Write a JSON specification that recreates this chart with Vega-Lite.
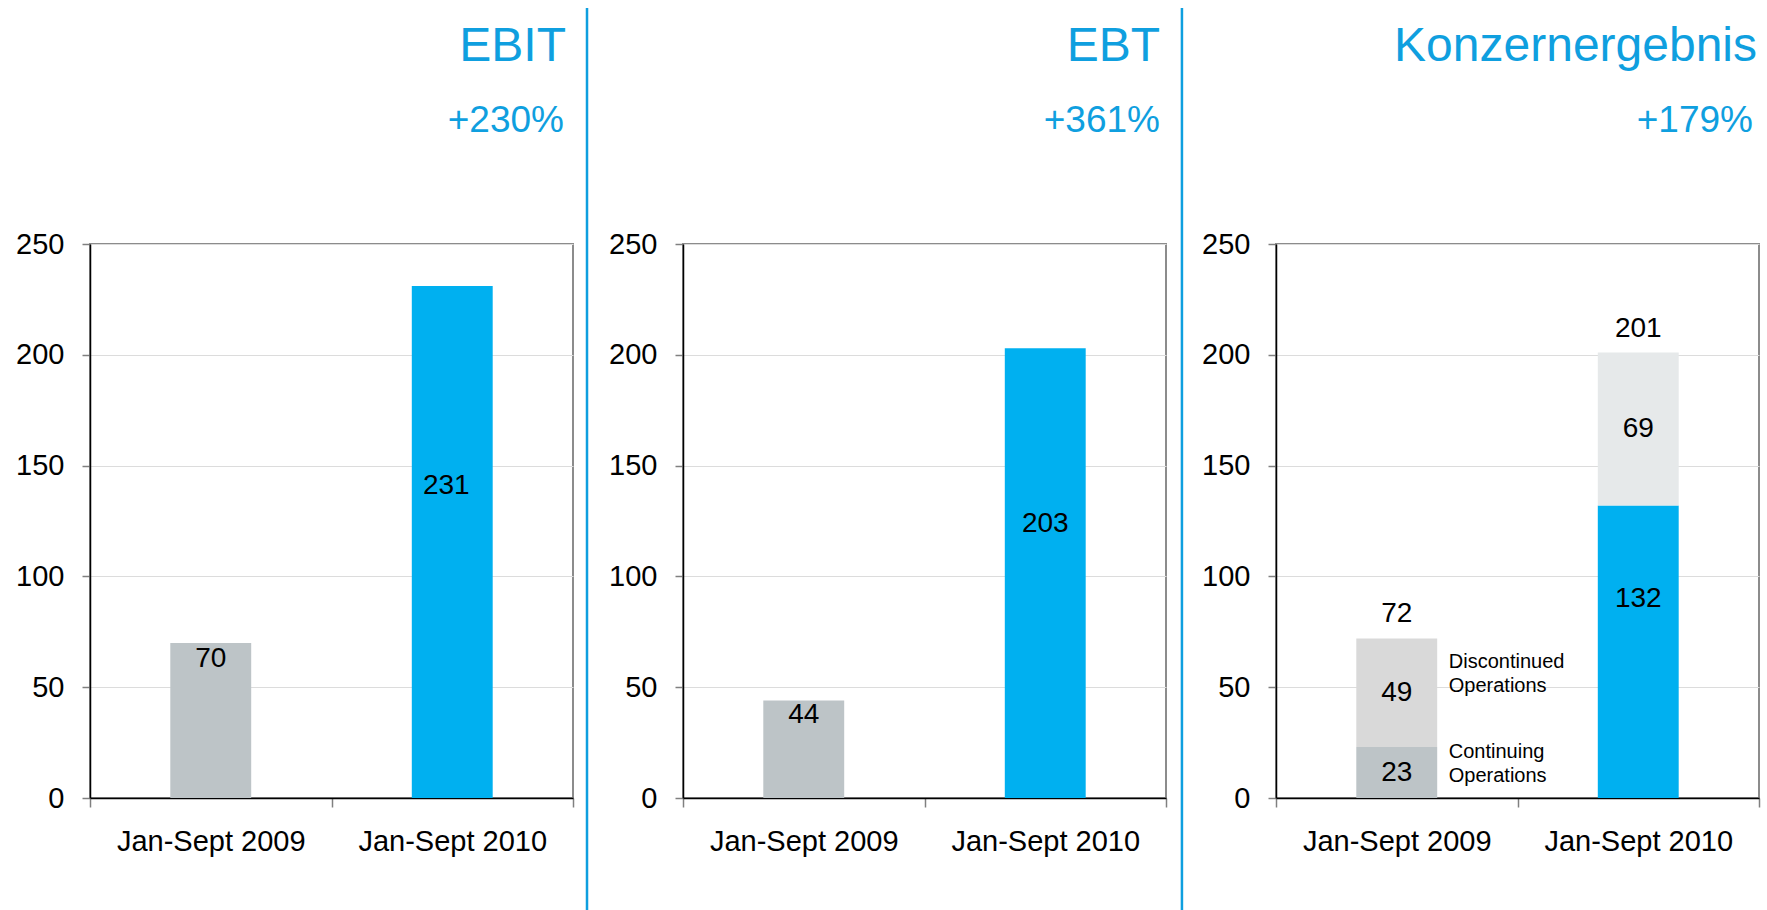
{
  "$schema": "https://vega.github.io/schema/vega-lite/v6.json",
  "background": "white",
  "padding": {"top": 5, "left": 0, "right": 6, "bottom": 0},
  "autosize": {"type": "pad"},
  "spacing": 110,
  "bounds": "flush",
  "datasets": {
    "ebit": [
      {"period": "Jan-Sept 2009", "value": 70},
      {"period": "Jan-Sept 2010", "value": 231}
    ],
    "ebt": [
      {"period": "Jan-Sept 2009", "value": 44},
      {"period": "Jan-Sept 2010", "value": 203}
    ],
    "konzern": [
      {"period": "Jan-Sept 2009", "part": "Continuing Operations", "value": 23},
      {"period": "Jan-Sept 2009", "part": "Discontinued Operations", "value": 49},
      {"period": "Jan-Sept 2010", "part": "Continuing Operations", "value": 132},
      {"period": "Jan-Sept 2010", "part": "Discontinued Operations", "value": 69}
    ],
    "titles": [
      {"panel": "EBIT", "title": "EBIT", "change": "+230%"},
      {"panel": "EBT", "title": "EBT", "change": "+361%"},
      {"panel": "Konzern", "title": "Konzernergebnis", "change": "+179%"}
    ],
    "separator": [{"line": "separator"}]
  },
  "config": {
    "font": "Liberation Sans",
    "view": {"stroke": "#8c8c8c", "strokeWidth": 2},
    "text": {"font": "Liberation Sans", "fontSize": 28, "color": "#000000"},
    "axisX": {
      "title": null, "labelFontSize": 29, "labelColor": "#000000", "labelAngle": 0,
      "labelPadding": 20, "labelLimit": 0, "tickBand": "extent", "tickSize": 9, "tickColor": "#808080",
      "tickWidth": 1.5, "domainColor": "#000000", "domainWidth": 1.5, "grid": false,
      "labelFont": "Liberation Sans"
    },
    "axisY": {
      "title": null, "labelFontSize": 29,
      "labelColor": "#000000", "labelPadding": 18, "tickSize": 8, "tickColor": "#808080",
      "tickWidth": 1.5, "domainColor": "#000000", "domainWidth": 1.5, "grid": true,
      "gridColor": "#dcdcdc", "gridWidth": 1, "minExtent": 89, "labelFont": "Liberation Sans"
    }
  },
  "hconcat": [
    {
      "width": 483, "height": 554,
      "layer": [
        {
          "data": {"name": "ebit"},
          "mark": {"type": "bar", "width": {"band": 0.335}},
          "encoding": {
            "x": {"field": "period", "type": "nominal", "scale": {"domain": ["Jan-Sept 2009", "Jan-Sept 2010"], "paddingInner": 0, "paddingOuter": 0}},
            "y": {"field": "value", "type": "quantitative", "scale": {"domain": [0, 250], "nice": false}, "axis": {"values": [0, 50, 100, 150, 200, 250]}},
            "color": {"field": "period", "type": "nominal", "scale": {"domain": ["Jan-Sept 2009", "Jan-Sept 2010"], "range": ["#bdc4c7", "#00b0f0"]}, "legend": null}
          }
        },
        {
          "data": {"name": "ebit"},
          "transform": [{"filter": "datum.period == 'Jan-Sept 2009'"}],
          "mark": {"type": "text", "baseline": "middle", "dy": 16},
          "encoding": {
            "x": {"field": "period", "type": "nominal", "scale": {"domain": ["Jan-Sept 2009", "Jan-Sept 2010"]}, "axis": null},
            "y": {"field": "value", "type": "quantitative", "scale": {"domain": [0, 250], "nice": false}, "axis": null},
            "text": {"field": "value", "type": "quantitative"}
          }
        },
        {
          "data": {"name": "ebit"},
          "transform": [{"filter": "datum.period == 'Jan-Sept 2010'"}],
          "mark": {"type": "text", "baseline": "middle", "dx": -6},
          "encoding": {
            "x": {"field": "period", "type": "nominal", "scale": {"domain": ["Jan-Sept 2009", "Jan-Sept 2010"]}, "axis": null},
            "y": {"field": "value", "type": "quantitative", "scale": {"domain": [0, 410], "nice": false}, "axis": null},
            "text": {"field": "value", "type": "quantitative"}
          }
        },
        {
          "data": {"name": "separator"},
          "mark": {"type": "rule", "color": "#0f9fdf", "strokeWidth": 2.5},
          "encoding": {
            "x": {"datum": 1.029, "type": "quantitative", "scale": {"domain": [0, 1], "nice": false}, "axis": null},
            "y": {"datum": 356.5, "type": "quantitative", "scale": {"domain": [0, 250], "nice": false}, "axis": null},
            "y2": {"datum": -51}
          }
        },
        {
          "data": {"name": "titles"},
          "transform": [{"filter": "datum.panel == 'EBIT'"}],
          "mark": {"type": "text", "align": "right", "baseline": "alphabetic", "fontSize": 48, "color": "#0f9fdf", "dx": -7},
          "encoding": {
            "x": {"datum": 1, "type": "quantitative", "scale": {"domain": [0, 1], "nice": false}, "axis": null},
            "y": {"datum": 332.6, "type": "quantitative", "scale": {"domain": [0, 250], "nice": false}, "axis": null},
            "text": {"field": "title", "type": "nominal"}
          }
        },
        {
          "data": {"name": "titles"},
          "transform": [{"filter": "datum.panel == 'EBIT'"}],
          "mark": {"type": "text", "align": "right", "baseline": "alphabetic", "fontSize": 37, "color": "#0f9fdf", "dx": -9},
          "encoding": {
            "x": {"datum": 1, "type": "quantitative", "scale": {"domain": [0, 1], "nice": false}, "axis": null},
            "y": {"datum": 300.7, "type": "quantitative", "scale": {"domain": [0, 250], "nice": false}, "axis": null},
            "text": {"field": "change", "type": "nominal"}
          }
        }
      ],
      "resolve": {"scale": {"x": "independent", "y": "independent"}}
    },
    {
      "width": 483, "height": 554,
      "layer": [
        {
          "data": {"name": "ebt"},
          "mark": {"type": "bar", "width": {"band": 0.335}},
          "encoding": {
            "x": {"field": "period", "type": "nominal", "scale": {"domain": ["Jan-Sept 2009", "Jan-Sept 2010"], "paddingInner": 0, "paddingOuter": 0}},
            "y": {"field": "value", "type": "quantitative", "scale": {"domain": [0, 250], "nice": false}, "axis": {"values": [0, 50, 100, 150, 200, 250]}},
            "color": {"field": "period", "type": "nominal", "scale": {"domain": ["Jan-Sept 2009", "Jan-Sept 2010"], "range": ["#bdc4c7", "#00b0f0"]}, "legend": null}
          }
        },
        {
          "data": {"name": "ebt"},
          "transform": [{"filter": "datum.period == 'Jan-Sept 2009'"}],
          "mark": {"type": "text", "baseline": "middle", "dy": 15},
          "encoding": {
            "x": {"field": "period", "type": "nominal", "scale": {"domain": ["Jan-Sept 2009", "Jan-Sept 2010"]}, "axis": null},
            "y": {"field": "value", "type": "quantitative", "scale": {"domain": [0, 250], "nice": false}, "axis": null},
            "text": {"field": "value", "type": "quantitative"}
          }
        },
        {
          "data": {"name": "ebt"},
          "transform": [{"filter": "datum.period == 'Jan-Sept 2010'"}],
          "mark": {"type": "text", "baseline": "middle"},
          "encoding": {
            "x": {"field": "period", "type": "nominal", "scale": {"domain": ["Jan-Sept 2009", "Jan-Sept 2010"]}, "axis": null},
            "y": {"field": "value", "type": "quantitative", "scale": {"domain": [0, 410], "nice": false}, "axis": null},
            "text": {"field": "value", "type": "quantitative"}
          }
        },
        {
          "data": {"name": "separator"},
          "mark": {"type": "rule", "color": "#0f9fdf", "strokeWidth": 2.5},
          "encoding": {
            "x": {"datum": 1.033, "type": "quantitative", "scale": {"domain": [0, 1], "nice": false}, "axis": null},
            "y": {"datum": 356.5, "type": "quantitative", "scale": {"domain": [0, 250], "nice": false}, "axis": null},
            "y2": {"datum": -51}
          }
        },
        {
          "data": {"name": "titles"},
          "transform": [{"filter": "datum.panel == 'EBT'"}],
          "mark": {"type": "text", "align": "right", "baseline": "alphabetic", "fontSize": 48, "color": "#0f9fdf", "dx": -6},
          "encoding": {
            "x": {"datum": 1, "type": "quantitative", "scale": {"domain": [0, 1], "nice": false}, "axis": null},
            "y": {"datum": 332.6, "type": "quantitative", "scale": {"domain": [0, 250], "nice": false}, "axis": null},
            "text": {"field": "title", "type": "nominal"}
          }
        },
        {
          "data": {"name": "titles"},
          "transform": [{"filter": "datum.panel == 'EBT'"}],
          "mark": {"type": "text", "align": "right", "baseline": "alphabetic", "fontSize": 37, "color": "#0f9fdf", "dx": -6},
          "encoding": {
            "x": {"datum": 1, "type": "quantitative", "scale": {"domain": [0, 1], "nice": false}, "axis": null},
            "y": {"datum": 300.7, "type": "quantitative", "scale": {"domain": [0, 250], "nice": false}, "axis": null},
            "text": {"field": "change", "type": "nominal"}
          }
        }
      ],
      "resolve": {"scale": {"x": "independent", "y": "independent"}}
    },
    {
      "width": 483, "height": 554,
      "layer": [
        {
          "data": {"name": "konzern"},
          "mark": {"type": "bar", "width": {"band": 0.335}},
          "encoding": {
            "x": {"field": "period", "type": "nominal", "scale": {"domain": ["Jan-Sept 2009", "Jan-Sept 2010"], "paddingInner": 0, "paddingOuter": 0}},
            "y": {"field": "value", "type": "quantitative", "stack": "zero", "scale": {"domain": [0, 250], "nice": false}, "axis": {"values": [0, 50, 100, 150, 200, 250]}},
            "detail": {"field": "part", "type": "nominal"},
            "order": {"field": "part", "type": "ordinal", "sort": "ascending"},
            "color": {
              "condition": [
                {"test": "datum.period == 'Jan-Sept 2010' && datum.part == 'Continuing Operations'", "value": "#00b0f0"},
                {"test": "datum.period == 'Jan-Sept 2010'", "value": "#e6e9ea"},
                {"test": "datum.part == 'Continuing Operations'", "value": "#bdc4c7"}
              ],
              "value": "#d9d9d9"
            }
          }
        },
        {
          "data": {"name": "konzern"},
          "mark": {"type": "text", "baseline": "middle"},
          "encoding": {
            "x": {"field": "period", "type": "nominal", "scale": {"domain": ["Jan-Sept 2009", "Jan-Sept 2010"]}, "axis": null},
            "y": {"field": "value", "type": "quantitative", "stack": "zero", "bandPosition": 0.5, "scale": {"domain": [0, 250], "nice": false}, "axis": null},
            "detail": {"field": "part", "type": "nominal"},
            "order": {"field": "part", "type": "ordinal", "sort": "ascending"},
            "opacity": {"condition": {"test": "datum.period == 'Jan-Sept 2010' && datum.part == 'Continuing Operations'", "value": 0}, "value": 1},
            "text": {"field": "value", "type": "quantitative"}
          }
        },
        {
          "data": {"name": "konzern"},
          "transform": [{"filter": "datum.period == 'Jan-Sept 2010' && datum.part == 'Continuing Operations'"}],
          "mark": {"type": "text", "baseline": "middle"},
          "encoding": {
            "x": {"field": "period", "type": "nominal", "scale": {"domain": ["Jan-Sept 2009", "Jan-Sept 2010"]}, "axis": null},
            "y": {"field": "value", "type": "quantitative", "scale": {"domain": [0, 367], "nice": false}, "axis": null},
            "text": {"field": "value", "type": "quantitative"}
          }
        },
        {
          "data": {"name": "konzern"},
          "transform": [{"aggregate": [{"op": "sum", "field": "value", "as": "total"}], "groupby": ["period"]}],
          "mark": {"type": "text", "baseline": "middle", "dy": -24},
          "encoding": {
            "x": {"field": "period", "type": "nominal", "scale": {"domain": ["Jan-Sept 2009", "Jan-Sept 2010"]}, "axis": null},
            "y": {"field": "total", "type": "quantitative", "scale": {"domain": [0, 250], "nice": false}, "axis": null},
            "text": {"field": "total", "type": "quantitative"}
          }
        },
        {
          "data": {"name": "konzern"},
          "transform": [{"filter": "datum.period == 'Jan-Sept 2009'"}],
          "mark": {"type": "text", "baseline": "middle", "align": "left", "dx": 52, "dy": -11, "fontSize": 20, "lineBreak": " ", "lineHeight": 24},
          "encoding": {
            "x": {"field": "period", "type": "nominal", "scale": {"domain": ["Jan-Sept 2009", "Jan-Sept 2010"]}, "axis": null},
            "y": {"field": "value", "type": "quantitative", "stack": "zero", "bandPosition": 0.68, "scale": {"domain": [0, 250], "nice": false}, "axis": null},
            "detail": {"field": "part", "type": "nominal"},
            "order": {"field": "part", "type": "ordinal", "sort": "ascending"},
            "text": {"field": "part", "type": "nominal"}
          }
        },
        {
          "data": {"name": "titles"},
          "transform": [{"filter": "datum.panel == 'Konzern'"}],
          "mark": {"type": "text", "align": "right", "baseline": "alphabetic", "fontSize": 48, "color": "#0f9fdf", "dx": -2},
          "encoding": {
            "x": {"datum": 1, "type": "quantitative", "scale": {"domain": [0, 1], "nice": false}, "axis": null},
            "y": {"datum": 332.6, "type": "quantitative", "scale": {"domain": [0, 250], "nice": false}, "axis": null},
            "text": {"field": "title", "type": "nominal"}
          }
        },
        {
          "data": {"name": "titles"},
          "transform": [{"filter": "datum.panel == 'Konzern'"}],
          "mark": {"type": "text", "align": "right", "baseline": "alphabetic", "fontSize": 37, "color": "#0f9fdf", "dx": -6},
          "encoding": {
            "x": {"datum": 1, "type": "quantitative", "scale": {"domain": [0, 1], "nice": false}, "axis": null},
            "y": {"datum": 300.7, "type": "quantitative", "scale": {"domain": [0, 250], "nice": false}, "axis": null},
            "text": {"field": "change", "type": "nominal"}
          }
        }
      ],
      "resolve": {"scale": {"x": "independent", "y": "independent"}}
    }
  ]
}
